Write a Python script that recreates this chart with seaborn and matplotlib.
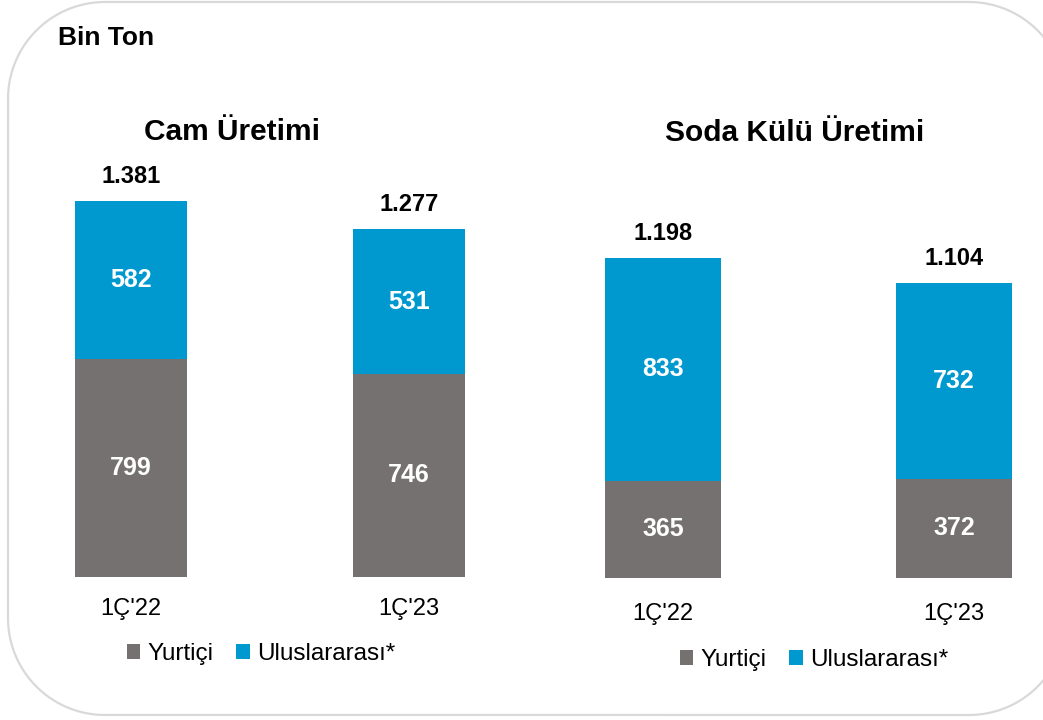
import matplotlib
matplotlib.use("Agg")
import matplotlib.pyplot as plt
import seaborn as sns
import pandas as pd
import numpy as np
from matplotlib.patches import Patch, PathPatch
from matplotlib.path import Path

sns.set_theme(style="white")
plt.rcParams['font.family'] = ['Liberation Sans', 'DejaVu Sans']
plt.rcParams['text.color'] = 'black'
plt.rcParams['xtick.color'] = 'black'

periods = ["1Ç'22", "1Ç'23"]
cam_domestic = [799, 746]
cam_intl = [582, 531]
cam_total_labels = ["1.381", "1.277"]
soda_domestic = [365, 372]
soda_intl = [833, 732]
soda_total_labels = ["1.198", "1.104"]
series_names = ["Yurtiçi", "Uluslararası*"]

GRAY = "#767171"
BLUE = "#0099CF"

W, H = 1043, 720
fig = plt.figure(figsize=(W / 100, H / 100), dpi=100)
fig.patch.set_facecolor("white")


# rounded border (decoration), in image pixel coords (y down) -> display coords
def rounded_rect(x0, y0, x1, y1, r):
    pts = []
    corners = [((x1 - r, y0 + r), -90, 0), ((x1 - r, y1 - r), 0, 90),
               ((x0 + r, y1 - r), 90, 180), ((x0 + r, y0 + r), 180, 270)]
    for (cx, cy), a0, a1 in corners:
        a = np.radians(np.linspace(a0, a1, 40))
        pts += list(zip(cx + r * np.cos(a), cy + r * np.sin(a)))
    pts.append(pts[0])
    pts = [(x, H - y) for x, y in pts]
    return Path(pts)


border = PathPatch(rounded_rect(8, 2, 1066, 715, 97), transform=None,
                   facecolor="none", edgecolor="#d9d9d9", lw=1.6)
fig.patches.append(border)


def px_axes(left, right, top, bottom):
    return fig.add_axes([left / W, 1 - bottom / H, (right - left) / W, (bottom - top) / H])


def draw_panel(ax, domestic, intl, total_labels, xlim, ymax, tickpad):
    totals = [d + i for d, i in zip(domestic, intl)]
    df_tot = pd.DataFrame({"period": periods, "value": totals})
    df_dom = pd.DataFrame({"period": periods, "value": domestic})
    sns.barplot(data=df_tot, x="period", y="value", color=BLUE, width=0.4,
                saturation=1, errorbar=None, linewidth=0, ax=ax)
    sns.barplot(data=df_dom, x="period", y="value", color=GRAY, width=0.4,
                saturation=1, errorbar=None, linewidth=0, ax=ax)
    for i, (d, t, lab) in enumerate(zip(domestic, totals, total_labels)):
        ax.text(i, d / 2, f"{d}", ha="center", va="center", color="white",
                fontsize=18, fontweight="bold")
        ax.text(i, d + (t - d) / 2, f"{t - d}", ha="center", va="center", color="white",
                fontsize=18, fontweight="bold")
        ax.annotate(lab, (i, t), xytext=(0, 13), textcoords="offset points",
                    ha="center", va="baseline", fontsize=17, fontweight="bold", color="black")
    ax.set_xlim(*xlim)
    ax.set_ylim(0, ymax)
    ax.set_xlabel("")
    ax.set_ylabel("")
    ax.set_yticks([])
    for s in ax.spines.values():
        s.set_visible(False)
    ax.tick_params(axis="x", length=0, pad=tickpad, labelsize=17, labelcolor="black")
    ax.patch.set_alpha(0)


# left panel: bar centers 131 / 409, bottom 577, 0.2723 px/unit
ax1 = px_axes(131 - 0.35 * 278, 409 + 0.35 * 278, 577 - 1500 * 0.2723, 577)
draw_panel(ax1, cam_domestic, cam_intl, cam_total_labels, (-0.35, 1.35), 1500, 15)

# right panel: bar centers 663 / 954, bottom 578, 0.267 px/unit
ax2 = px_axes(663 - 0.3 * 291, 954 + 0.3 * 291, 578 - 1500 * 0.267, 578)
draw_panel(ax2, soda_domestic, soda_intl, soda_total_labels, (-0.3, 1.3), 1500, 18)

fig.text(58 / W, 1 - 38 / H, "Bin Ton", ha="left", va="center", fontsize=19, fontweight="bold")
fig.text(231.5 / W, 1 - 132 / H, "Cam Üretimi", ha="center", va="center", fontsize=21.5, fontweight="bold")
fig.text(794.5 / W, 1 - 133 / H, "Soda Külü Üretimi", ha="center", va="center", fontsize=21.5, fontweight="bold")

handles = [Patch(facecolor=GRAY, edgecolor="none"), Patch(facecolor=BLUE, edgecolor="none")]
for cx, cy in [(261, 654), (814, 660)]:
    fig.legend(handles, series_names, loc="center", bbox_to_anchor=(cx / W, 1 - cy / H),
               ncol=2, frameon=False, fontsize=17.5, handlelength=0.55, handleheight=0.55,
               handletextpad=0.3, columnspacing=0.95)

fig.savefig("out.png", dpi=100)
